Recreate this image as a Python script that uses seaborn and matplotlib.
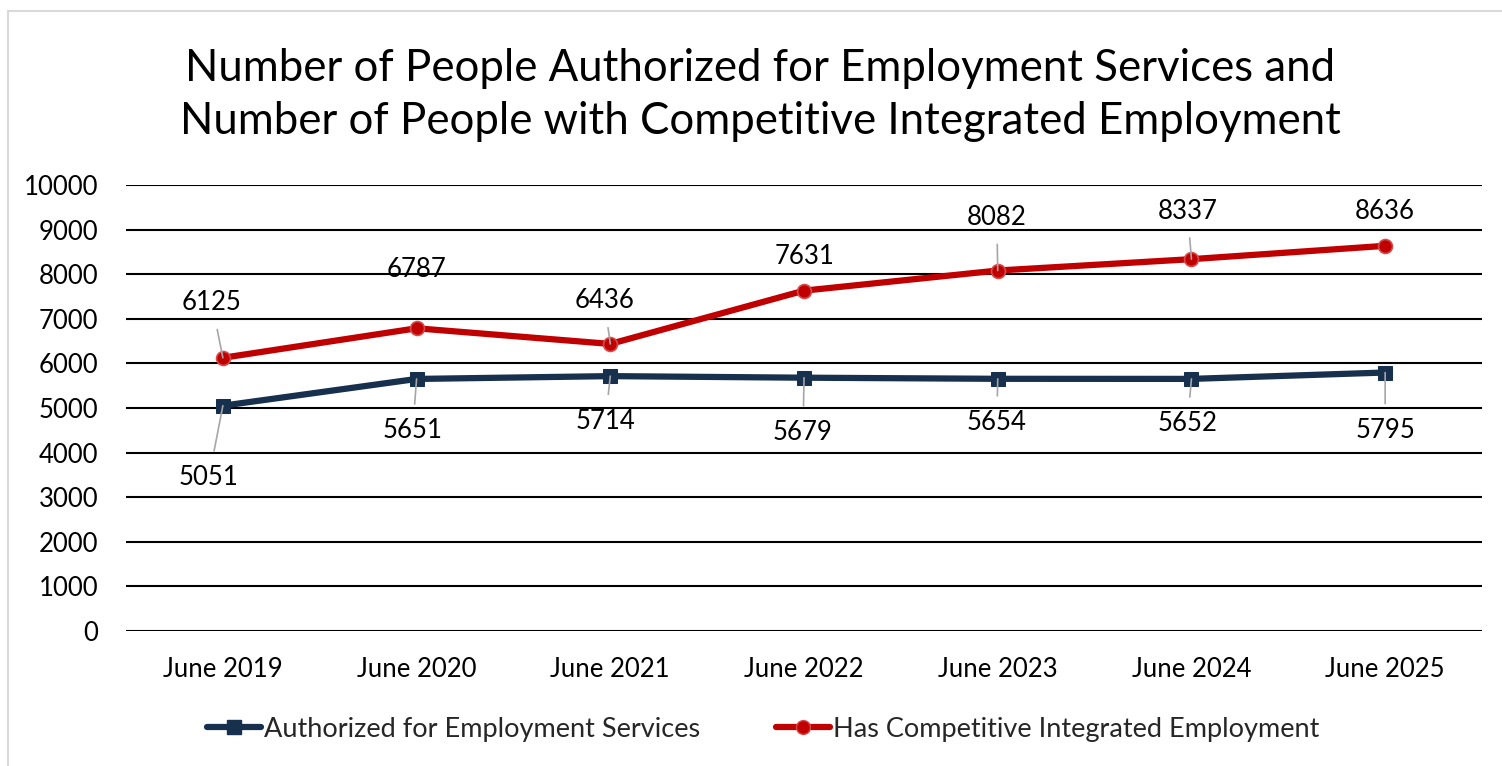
import matplotlib
matplotlib.use("Agg")
import matplotlib.pyplot as plt
from matplotlib.patches import Rectangle
import pandas as pd
import seaborn as sns

# ---- data -------------------------------------------------------------
periods = ["June 2019", "June 2020", "June 2021", "June 2022",
           "June 2023", "June 2024", "June 2025"]
authorized = [5051, 5651, 5714, 5679, 5654, 5652, 5795]
employed = [6125, 6787, 6436, 7631, 8082, 8337, 8636]

series_auth = "Authorized for Employment Services"
series_emp = "Has Competitive Integrated Employment"

# label offsets (pixels) and whether a leader line is drawn
auth_offsets = [(-14, -72), (-4, -52), (-5, -45), (-1, -55), (-1, -44), (-4, -45), (0, -58)]
auth_leader = [True, True, True, True, True, True, True]
emp_offsets = [(-11, 55), (0, 59), (-6, 43), (1, 34), (-1, 53), (-4, 48), (0, 34)]
emp_leader = [True, False, True, False, True, True, False]

df = pd.DataFrame({
    "period": periods * 2,
    "count": authorized + employed,
    "series": [series_auth] * len(periods) + [series_emp] * len(periods),
})

NAVY = "#17304D"
RED = "#C00000"
FS = 18.5

sns.set_theme(style="white")
plt.rcParams["font.family"] = ["Lato", "DejaVu Sans"]

fig = plt.figure(figsize=(15.02, 7.66), dpi=100)
ax = fig.add_axes([0.0839, 0.1763, 0.9028, 0.5822])

sns.lineplot(
    data=df, x="period", y="count", hue="series", style="series",
    palette={series_auth: NAVY, series_emp: RED},
    markers={series_auth: "s", series_emp: "o"},
    dashes=False, linewidth=4.5, markersize=10, sort=False, ax=ax,
    legend=False,
)
for line in ax.lines:
    if line.get_marker() == "o":
        line.set_markeredgecolor("#D84A4A")
        line.set_markeredgewidth(1.2)
    else:
        line.set_markeredgecolor(NAVY)
    line.set_solid_capstyle("round")

ax.set_xlim(-0.5, len(periods) - 0.5)
ax.set_ylim(0, 10000)
ax.set_yticks(range(0, 10001, 1000))
ax.grid(axis="y", color="black", linewidth=1.5)
ax.set_axisbelow(True)
for s in ax.spines.values():
    s.set_visible(False)
ax.tick_params(axis="both", length=0, labelsize=FS, labelcolor="black")
ax.tick_params(axis="y", pad=20)
ax.tick_params(axis="x", pad=19)
ax.set_xlabel("")
ax.set_ylabel("")


def label_points(values, offsets, leaders):
    for i, (v, (dx, dy), lead) in enumerate(zip(values, offsets, leaders)):
        kw = {}
        if lead:
            kw["arrowprops"] = dict(arrowstyle="-", color="#A6A6A6", lw=1.2,
                                    shrinkA=8, shrinkB=0)
        ax.annotate(str(v), xy=(i, v), xytext=(dx, dy), textcoords="offset pixels",
                    ha="center", va="center", fontsize=FS, color="black", **kw)


label_points(authorized, auth_offsets, auth_leader)
label_points(employed, emp_offsets, emp_leader)

fig.text(0.506, 1 - 95 / 766,
         "Number of People Authorized for Employment Services and\n"
         "Number of People with Competitive Integrated Employment",
         ha="center", va="center", fontsize=31.5, color="black", linespacing=1.36)

handles = [
    plt.Line2D([], [], color=NAVY, lw=4.5, marker="s", markersize=10,
               markeredgecolor=NAVY, solid_capstyle="round"),
    plt.Line2D([], [], color=RED, lw=4.5, marker="o", markersize=10,
               markeredgecolor="#D84A4A", solid_capstyle="round"),
]
fig.legend(handles, [series_auth, series_emp], loc="center",
           bbox_to_anchor=(0.508, 1 - 729 / 766), ncol=2, frameon=False,
           fontsize=19.5, handlelength=2.0, handletextpad=0.1, columnspacing=2.8)

# outer chart border
fig.patches.append(Rectangle((8 / 1502, -0.05), 1.1, 1 - 11 / 766 + 0.05,
                             transform=fig.transFigure, fill=False,
                             edgecolor="#D9D9D9", linewidth=1.5))

fig.savefig("out.png", dpi=100)
